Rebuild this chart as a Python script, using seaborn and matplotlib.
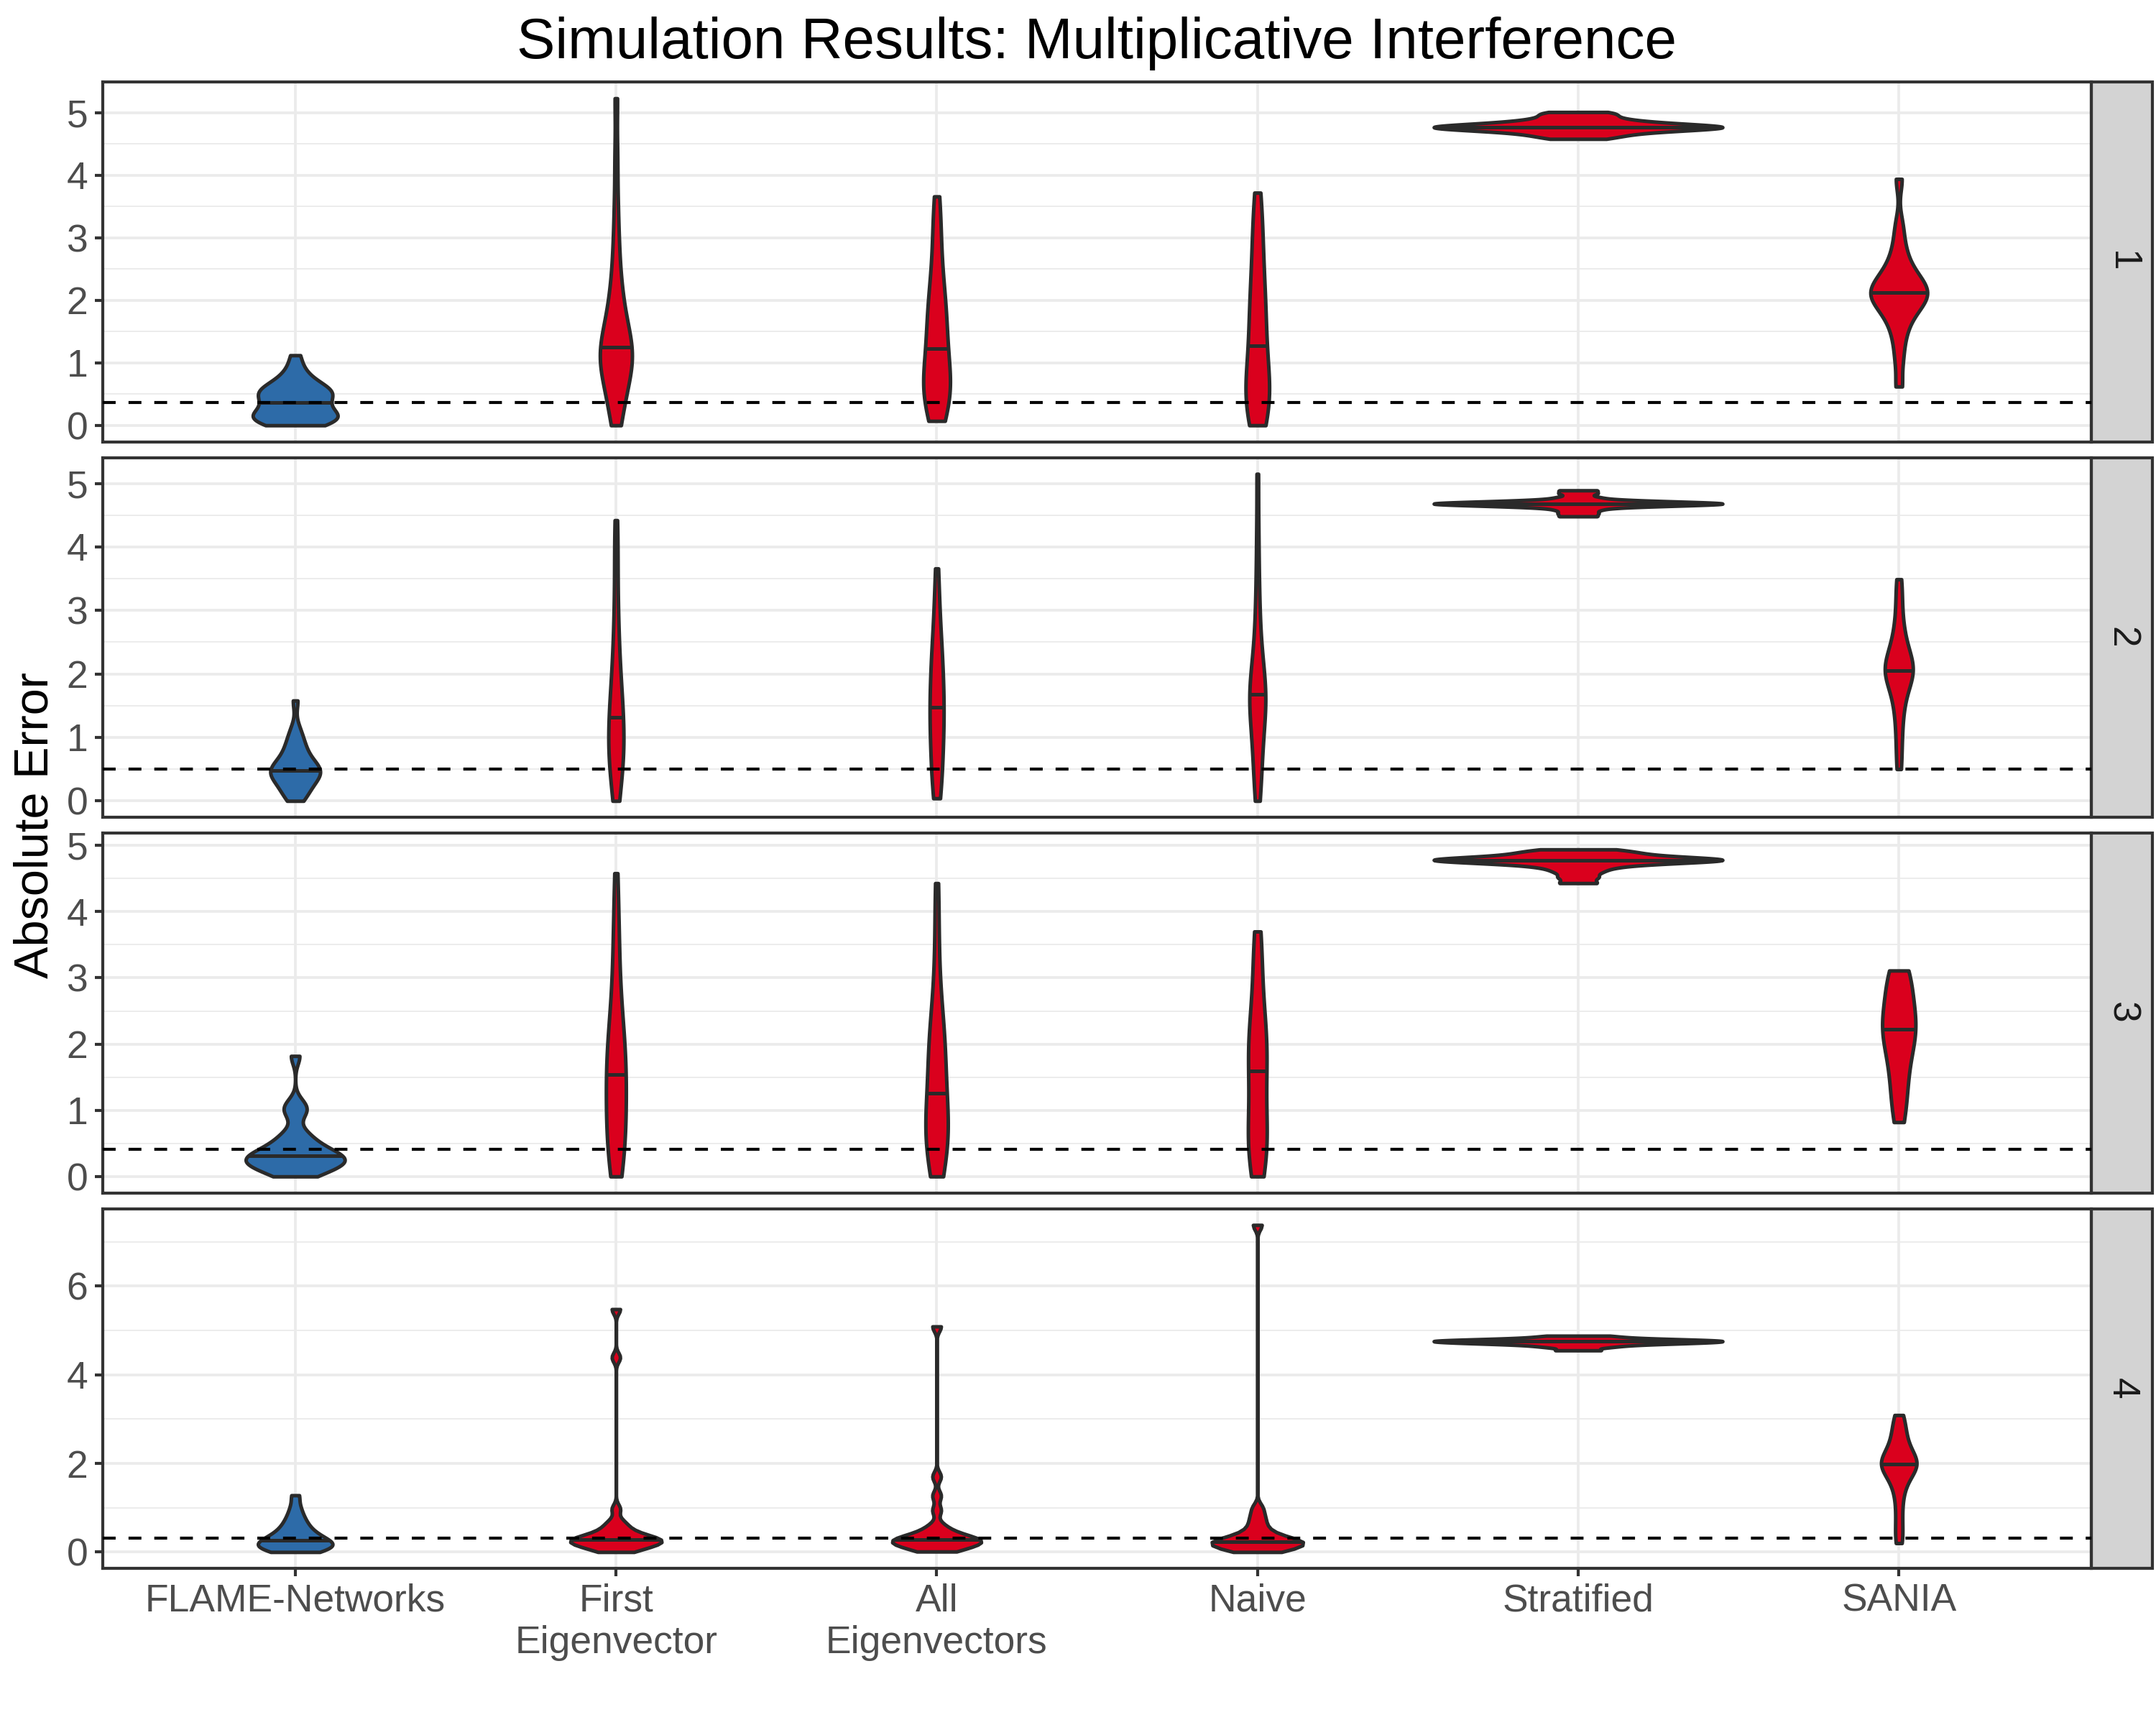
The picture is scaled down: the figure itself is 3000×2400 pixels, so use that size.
import numpy as np
import pandas as pd
import matplotlib
matplotlib.use("Agg")
import matplotlib.pyplot as plt
import seaborn as sns
from matplotlib.patches import Rectangle
from matplotlib.ticker import MultipleLocator

# methods on the x axis
methods = ["FLAME-Networks", "First\nEigenvector", "All\nEigenvectors",
           "Naive", "Stratified", "SANIA"]
panels = ["1", "2", "3", "4"]

# absolute errors per method, one list per panel
flame = [
    [0.0, 0.02, 0.04, 0.06, 0.08, 0.1, 0.12, 0.13, 0.15, 0.17, 0.19, 0.22, 0.26, 0.31, 0.36,
     0.38, 0.42, 0.46, 0.49, 0.51, 0.53, 0.55, 0.57, 0.6, 0.63, 0.68, 0.74, 0.82, 0.93, 1.12],
    [0.0, 0.06, 0.12, 0.18, 0.23, 0.28, 0.32, 0.36, 0.39, 0.42, 0.45, 0.47, 0.48, 0.51, 0.54,
     0.57, 0.61, 0.66, 0.72, 0.78, 0.85, 0.93, 1.02, 1.15, 1.58],
    [0.0, 0.04, 0.08, 0.12, 0.15, 0.18, 0.2, 0.22, 0.24, 0.26, 0.28, 0.3, 0.32, 0.35, 0.38,
     0.42, 0.47, 0.53, 0.6, 0.68, 0.95, 1.02, 1.1, 1.82],
    [0.0, 0.03, 0.06, 0.09, 0.11, 0.13, 0.15, 0.17, 0.2, 0.23, 0.26, 0.3, 0.34, 0.39, 0.45,
     0.52, 0.6, 0.7, 0.82, 1.0, 1.28],
]
first_eig = [
    [0.0, 0.12, 0.28, 0.42, 0.55, 0.66, 0.75, 0.82, 0.88, 0.94, 1.0, 1.06, 1.12, 1.18, 1.22,
     1.25, 1.3, 1.38, 1.46, 1.55, 1.66, 1.78, 1.9, 2.05, 2.22, 2.45, 2.75, 3.1, 3.6, 4.3, 5.23],
    [0.0, 0.15, 0.3, 0.42, 0.52, 0.6, 0.68, 0.75, 0.82, 0.9, 0.98, 1.06, 1.15, 1.24, 1.32,
     1.4, 1.5, 1.6, 1.72, 1.85, 2.0, 2.18, 2.38, 2.62, 2.9, 3.25, 3.7, 4.1, 4.42],
    [0.0, 0.1, 0.22, 0.34, 0.46, 0.58, 0.7, 0.82, 0.94, 1.06, 1.18, 1.3, 1.42, 1.54, 1.64,
     1.74, 1.85, 1.96, 2.08, 2.22, 2.4, 2.62, 2.9, 3.25, 3.6, 4.0, 4.58],
    [0.0, 0.04, 0.08, 0.12, 0.15, 0.18, 0.2, 0.22, 0.24, 0.26, 0.27, 0.28, 0.3, 0.33, 0.36,
     0.4, 0.45, 0.52, 0.6, 0.7, 0.97, 4.39, 5.48],
]
all_eig = [
    [0.07, 0.15, 0.24, 0.32, 0.4, 0.46, 0.52, 0.57, 0.62, 0.67, 0.73, 0.8, 0.88, 0.97, 1.1,
     1.23, 1.35, 1.45, 1.55, 1.65, 1.75, 1.85, 1.96, 2.08, 2.22, 2.4, 2.62, 2.88, 3.15, 3.4, 3.66],
    [0.04, 0.15, 0.28, 0.42, 0.56, 0.7, 0.84, 0.97, 1.1, 1.22, 1.33, 1.4, 1.47, 1.6, 1.72,
     1.85, 1.98, 2.1, 2.22, 2.35, 2.5, 2.7, 2.95, 3.3, 3.66],
    [0.0, 0.12, 0.26, 0.38, 0.48, 0.56, 0.63, 0.7, 0.78, 0.88, 1.0, 1.13, 1.26, 1.42, 1.6,
     1.76, 1.88, 1.98, 2.1, 2.25, 2.45, 2.75, 3.2, 3.8, 4.43],
    [0.01, 0.05, 0.09, 0.13, 0.16, 0.19, 0.21, 0.23, 0.25, 0.27, 0.28, 0.3, 0.33, 0.37, 0.42,
     0.5, 0.6, 0.94, 1.27, 1.7, 5.09],
]
naive = [
    [0.0, 0.05, 0.12, 0.2, 0.28, 0.35, 0.42, 0.48, 0.54, 0.6, 0.67, 0.75, 0.85, 0.97, 1.12,
     1.27, 1.4, 1.52, 1.64, 1.76, 1.88, 2.0, 2.15, 2.3, 2.48, 2.66, 2.86, 3.08, 3.3, 3.5, 3.72],
    [0.0, 0.18, 0.38, 0.55, 0.72, 0.88, 1.02, 1.15, 1.26, 1.36, 1.45, 1.54, 1.62, 1.68, 1.72,
     1.76, 1.85, 1.96, 2.08, 2.22, 2.4, 2.62, 2.9, 3.25, 3.7, 4.3, 5.15],
    [0.0, 0.12, 0.25, 0.36, 0.45, 0.52, 0.6, 0.7, 0.85, 1.05, 1.25, 1.44, 1.59, 1.72, 1.84,
     1.94, 2.02, 2.12, 2.25, 2.42, 2.65, 2.95, 3.3, 3.5, 3.7],
    [0.0, 0.03, 0.06, 0.09, 0.12, 0.15, 0.17, 0.19, 0.21, 0.23, 0.24, 0.26, 0.29, 0.33, 0.38,
     0.45, 0.55, 0.68, 0.82, 1.0, 7.38],
]
stratified = [
    [4.58, 4.62, 4.65, 4.68, 4.7, 4.72, 4.73, 4.74, 4.75, 4.76, 4.77, 4.77, 4.78, 4.79, 4.8,
     4.81, 4.83, 4.85, 4.87, 4.9, 4.94, 4.98, 5.01],
    [4.48, 4.53, 4.58, 4.62, 4.64, 4.65, 4.66, 4.67, 4.67, 4.68, 4.68, 4.69, 4.69, 4.7, 4.71,
     4.72, 4.74, 4.78, 4.84, 4.89],
    [4.43, 4.52, 4.6, 4.66, 4.7, 4.73, 4.75, 4.76, 4.77, 4.78, 4.78, 4.79, 4.8, 4.81, 4.83,
     4.86, 4.88, 4.91, 4.94],
    [4.55, 4.62, 4.66, 4.69, 4.71, 4.72, 4.73, 4.74, 4.76, 4.76, 4.77, 4.78, 4.79, 4.81, 4.84,
     4.88],
]
sania = [
    [0.62, 1.05, 1.35, 1.55, 1.7, 1.8, 1.88, 1.95, 2.0, 2.04, 2.08, 2.12, 2.16, 2.2, 2.25,
     2.3, 2.37, 2.45, 2.55, 2.7, 2.9, 3.2, 3.94],
    [0.5, 0.85, 1.15, 1.4, 1.58, 1.72, 1.84, 1.94, 1.99, 2.02, 2.05, 2.1, 2.16, 2.22, 2.3,
     2.4, 2.52, 2.68, 2.9, 3.2, 3.49],
    [0.82, 1.0, 1.2, 1.38, 1.55, 1.7, 1.85, 1.98, 2.08, 2.15, 2.22, 2.28, 2.34, 2.42, 2.52,
     2.64, 2.78, 2.92, 3.02, 3.08, 3.11],
    [0.2, 0.5, 0.85, 1.2, 1.45, 1.62, 1.74, 1.83, 1.9, 1.95, 1.99, 2.02, 2.05, 2.12, 2.2,
     2.3, 2.42, 2.56, 2.72, 2.9, 3.09],
]
# dashed reference line per panel
ref_line = [0.36, 0.5, 0.41, 0.31]

palette = {m: "#DA001D" for m in methods}
palette[methods[0]] = "#2D6BA8"
edge = "#2A2A2A"


def nrd0(kde):
    # R's default bandwidth rule, as a factor of the sample sd
    x = np.asarray(kde.dataset).ravel()
    sd = x.std(ddof=1)
    q75, q25 = np.percentile(x, [75, 25])
    h = 0.9 * min(sd, (q75 - q25) / 1.34) * len(x) ** -0.2
    return h / sd


def x_extent(coll, y):
    v = coll.get_paths()[0].vertices
    xs = []
    for (x0, y0), (x1, y1) in zip(v[:-1], v[1:]):
        if y0 != y1 and (y0 - y) * (y1 - y) <= 0:
            xs.append(x0 + (y - y0) * (x1 - x0) / (y1 - y0))
    return min(xs), max(xs)


sns.set_style("white")
plt.rcParams["font.family"] = ["Liberation Sans", "DejaVu Sans"]

fig = plt.figure(figsize=(10, 8), dpi=300)
axes = fig.subplots(4, 1, gridspec_kw=dict(left=0.0477, right=0.97, top=0.9525,
                                           bottom=0.0908, hspace=0.044))

for i, ax in enumerate(axes):
    vals = [flame[i], first_eig[i], all_eig[i], naive[i], stratified[i], sania[i]]
    df = pd.DataFrame({
        "method": np.repeat(methods, [len(v) for v in vals]),
        "error": np.concatenate(vals),
    })
    sns.violinplot(data=df, x="method", y="error", hue="method", order=methods,
                   hue_order=methods, palette=palette, saturation=1, cut=0,
                   density_norm="area", common_norm=True, width=0.9, inner=None,
                   linecolor=edge, linewidth=1.2, bw_method=nrd0, legend=False, ax=ax)

    # median line inside each violin
    for coll, v in zip(list(ax.collections), vals):
        m = np.median(v)
        x0, x1 = x_extent(coll, m)
        ax.plot([x0, x1], [m, m], color=edge, lw=1.2, solid_capstyle="butt", zorder=3)

    ax.axhline(ref_line[i], color="black", lw=1.0, ls=(0, (4.3, 4.3)), zorder=5)

    lo = min(min(v) for v in vals)
    hi = max(max(v) for v in vals)
    pad = 0.05 * (hi - lo)
    ax.set_ylim(lo - pad, hi + pad)
    ax.set_xlim(-0.6, 5.6)

    if i < 3:
        ax.yaxis.set_major_locator(MultipleLocator(1))
        ax.yaxis.set_minor_locator(MultipleLocator(0.5))
    else:
        ax.yaxis.set_major_locator(MultipleLocator(2))
        ax.yaxis.set_minor_locator(MultipleLocator(1))

    ax.set_axisbelow(True)
    ax.grid(which="major", color="#EBEBEB", lw=0.9)
    ax.grid(which="minor", axis="y", color="#EBEBEB", lw=0.45)
    ax.set_xlabel("")
    ax.set_ylabel("")
    for s in ax.spines.values():
        s.set_visible(True)
        s.set_color("#333333")
        s.set_linewidth(1.0)

    ax.tick_params(axis="y", which="major", left=True, length=2.75, width=1.0,
                   color="#333333", labelsize=12.8, labelcolor="#4D4D4D", pad=2.2)
    ax.tick_params(axis="y", which="minor", left=False, length=0)
    if i < 3:
        ax.tick_params(axis="x", bottom=False, labelbottom=False)
    else:
        ax.tick_params(axis="x", bottom=True, length=2.75, width=1.0, color="#333333",
                       labelsize=12.8, labelcolor="#4D4D4D", pad=2.2)

    # facet strip on the right
    sw = 0.0307
    ax.add_patch(Rectangle((1.0, 0.0), sw, 1.0, transform=ax.transAxes,
                           facecolor="#D3D3D3", edgecolor="#333333", lw=1.0,
                           clip_on=False))
    ax.text(1.0 + sw / 2, 0.5, panels[i], transform=ax.transAxes, rotation=270,
            ha="center", va="center", fontsize=12.8, color="#1A1A1A")

fig.text(0.5088, 0.9662, "Simulation Results: Multiplicative Interference",
         ha="center", va="baseline", fontsize=19.2, color="black")
fig.text(0.0165, 0.5217, "Absolute Error", rotation=90, ha="center", va="center",
         fontsize=16, color="black")

fig.savefig("out.png", dpi=300)
